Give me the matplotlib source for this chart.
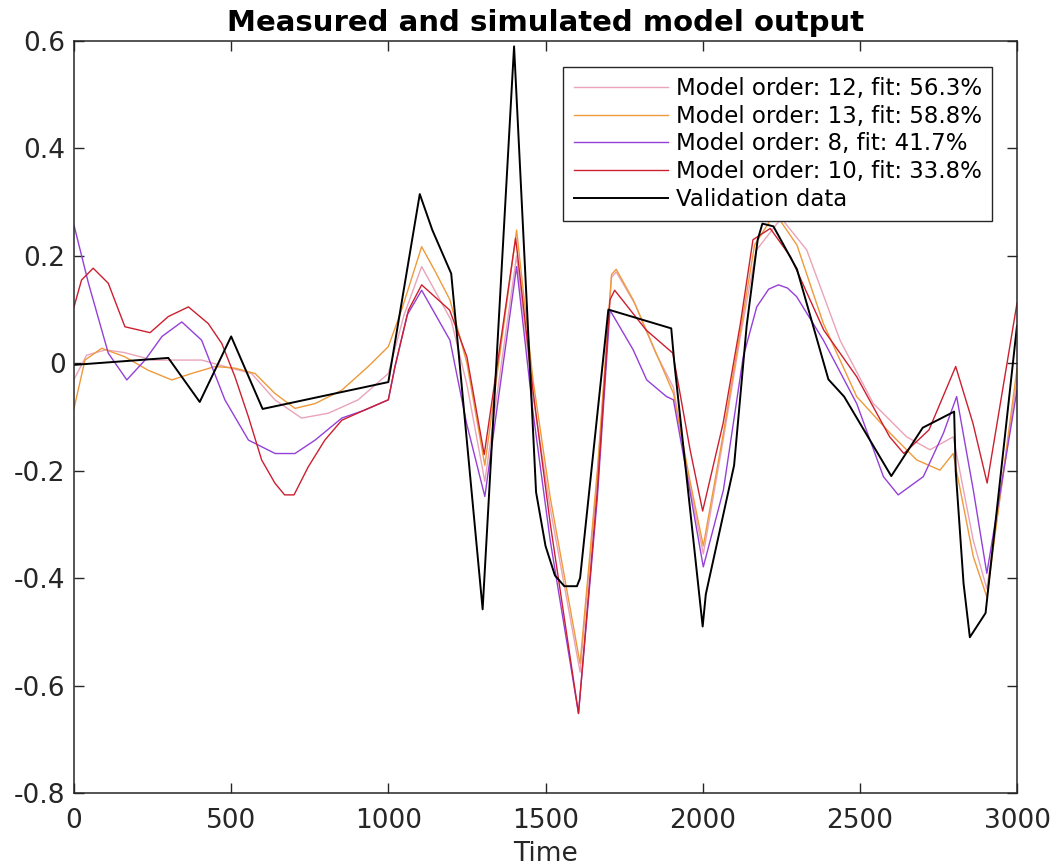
import matplotlib
matplotlib.use("Agg")
import matplotlib.pyplot as plt

plt.rcParams['font.family'] = ['DejaVu Sans']
plt.rcParams['axes.unicode_minus'] = False

# Validation data (black)
val_t = [0, 300, 400, 500, 600, 1000, 1100, 1140, 1200, 1300, 1400, 1470, 1500, 1530, 1560,
         1600, 1610, 1700, 1900, 1910, 2000, 2010, 2100, 2140, 2175, 2190, 2225, 2300, 2400,
         2450, 2600, 2650, 2700, 2800, 2805, 2830, 2850, 2900, 3000]
val_y = [-0.003, 0.01, -0.072, 0.05, -0.085, -0.035, 0.315, 0.248, 0.167, -0.458, 0.59, -0.24,
         -0.34, -0.395, -0.415, -0.415, -0.40, 0.10, 0.065, 0.0, -0.49, -0.43, -0.19, 0.07,
         0.23, 0.26, 0.255, 0.175, -0.03, -0.062, -0.21, -0.165, -0.12, -0.09, -0.20, -0.41,
         -0.51, -0.465, 0.07]

# Model order 12
m12_t = [0, 40, 100, 160, 250, 406, 480, 565, 639, 724, 809, 904, 1000, 1050, 1106, 1200,
         1250, 1307, 1408, 1460, 1515, 1610, 1665, 1710, 1725, 1785, 1850, 1907, 1960, 2002,
         2066, 2120, 2170, 2250, 2331, 2437, 2543, 2649, 2723, 2797, 2861, 2904, 3000]
m12_y = [-0.03, 0.015, 0.025, 0.02, 0.006, 0.006, -0.006, -0.019, -0.068, -0.102, -0.093,
         -0.068, -0.019, 0.09, 0.18, 0.08, -0.04, -0.22, 0.20, -0.06, -0.27, -0.575, -0.21,
         0.16, 0.17, 0.11, 0.02, -0.045, -0.23, -0.355, -0.14, 0.05, 0.21, 0.27, 0.211, 0.043,
         -0.075, -0.137, -0.161, -0.137, -0.33, -0.42, -0.03]

# Model order 13
m13_t = [0, 35, 88, 162, 236, 311, 374, 449, 512, 576, 639, 703, 767, 852, 936, 1000, 1042,
         1106, 1150, 1196, 1250, 1307, 1408, 1460, 1515, 1610, 1665, 1710, 1725, 1779, 1843,
         1907, 1960, 2002, 2066, 2120, 2165, 2230, 2300, 2384, 2490, 2596, 2681, 2755, 2797,
         2861, 2904, 3000]
m13_y = [-0.084, 0.006, 0.028, 0.012, -0.013, -0.031, -0.019, -0.006, -0.009, -0.019, -0.056,
         -0.084, -0.075, -0.05, -0.006, 0.031, 0.099, 0.217, 0.17, 0.118, 0.0, -0.19, 0.248,
         -0.03, -0.25, -0.559, -0.2, 0.165, 0.175, 0.118, 0.031, -0.056, -0.22, -0.34, -0.13,
         0.06, 0.22, 0.28, 0.22, 0.074, -0.062, -0.13, -0.18, -0.199, -0.168, -0.36, -0.435,
         -0.01]

# Model order 8
m8_t = [0, 46, 109, 168, 226, 280, 343, 406, 480, 555, 640, 703, 767, 852, 926, 1000, 1020,
        1060, 1106, 1196, 1249, 1307, 1408, 1460, 1515, 1605, 1665, 1705, 1779, 1822, 1885,
        1907, 1960, 2002, 2066, 2129, 2172, 2210, 2241, 2270, 2299, 2384, 2490, 2575, 2622,
        2702, 2766, 2808, 2861, 2904, 3000]
m8_y = [0.257, 0.149, 0.019, -0.031, 0.006, 0.05, 0.077, 0.043, -0.068, -0.143, -0.168,
        -0.168, -0.143, -0.102, -0.087, -0.068, -0.01, 0.09, 0.136, 0.043, -0.112, -0.248,
        0.18, -0.09, -0.33, -0.652, -0.25, 0.099, 0.025, -0.031, -0.062, -0.068, -0.24, -0.379,
        -0.236, 0.012, 0.105, 0.138, 0.146, 0.14, 0.124, 0.043, -0.075, -0.211, -0.245,
        -0.211, -0.13, -0.062, -0.236, -0.391, -0.05]

# Model order 10
m10_t = [0, 24, 61, 109, 162, 242, 300, 364, 427, 470, 512, 555, 597, 639, 670, 700, 745,
         798, 852, 936, 1000, 1021, 1064, 1106, 1195, 1250, 1305, 1405, 1460, 1515, 1605,
         1665, 1705, 1720, 1820, 1905, 1960, 2000, 2065, 2120, 2160, 2215, 2280, 2385, 2490,
         2595, 2640, 2720, 2805, 2860, 2905, 3000]
m10_y = [0.105, 0.155, 0.177, 0.149, 0.068, 0.057, 0.087, 0.105, 0.074, 0.037, -0.025, -0.1,
         -0.18, -0.223, -0.245, -0.245, -0.193, -0.143, -0.106, -0.084, -0.068, -0.006, 0.099,
         0.146, 0.099, 0.012, -0.17, 0.233, -0.05, -0.298, -0.652, -0.236, 0.118, 0.136, 0.062,
         0.019, -0.161, -0.275, -0.112, 0.074, 0.23, 0.251, 0.198, 0.062, -0.025, -0.137,
         -0.168, -0.124, -0.006, -0.112, -0.223, 0.112]

labels = ["Model order: 12, fit: 56.3%", "Model order: 13, fit: 58.8%",
          "Model order: 8, fit: 41.7%", "Model order: 10, fit: 33.8%", "Validation data"]
colors = ['#eaa3b8', '#ee9a3a', '#9440d8', '#cc1f2f', 'black']

x_ticks = [0, 500, 1000, 1500, 2000, 2500, 3000]
y_ticks = [-0.8, -0.6, -0.4, -0.2, 0, 0.2, 0.4, 0.6]
y_tick_labels = ['-0.8', '-0.6', '-0.4', '-0.2', '0', '0.2', '0.4', '0.6']

fig = plt.figure(figsize=(10.55, 8.67), dpi=100)
ax = fig.add_axes([74 / 1055, 1 - 793 / 867, 943 / 1055, 752 / 867])

series = [(m12_t, m12_y), (m13_t, m13_y), (m8_t, m8_y), (m10_t, m10_y), (val_t, val_y)]
for (t, y), c, lab in zip(series, colors, labels):
    lw = 1.4 if c == 'black' else 1.0
    ax.plot(t, y, color=c, lw=lw, label=lab)

ax.set_xlim(0, 3000)
ax.set_ylim(-0.8, 0.6)
ax.set_xticks(x_ticks)
ax.set_yticks(y_ticks)
ax.set_yticklabels(y_tick_labels)
ax.tick_params(direction='in', length=7, width=1, top=True, right=True,
               labelsize=19, pad=6, colors='#262626')
ax.tick_params(axis='x', pad=11)
for sp in ax.spines.values():
    sp.set_linewidth(1.1)
    sp.set_color('#262626')

ax.set_xlabel("Time", fontsize=19, labelpad=5, color='#262626')
ax.set_title("Measured and simulated model output", fontsize=21, fontweight='bold', pad=7)

leg = ax.legend(loc='upper right', bbox_to_anchor=(0.9735, 0.9654), borderaxespad=0,
                fontsize=16.5, handlelength=4.1, handletextpad=0.35, labelspacing=0.2,
                borderpad=0.45, fancybox=False, framealpha=1, edgecolor='#262626')
leg.get_frame().set_linewidth(1.0)

fig.savefig("out.png", dpi=100)
